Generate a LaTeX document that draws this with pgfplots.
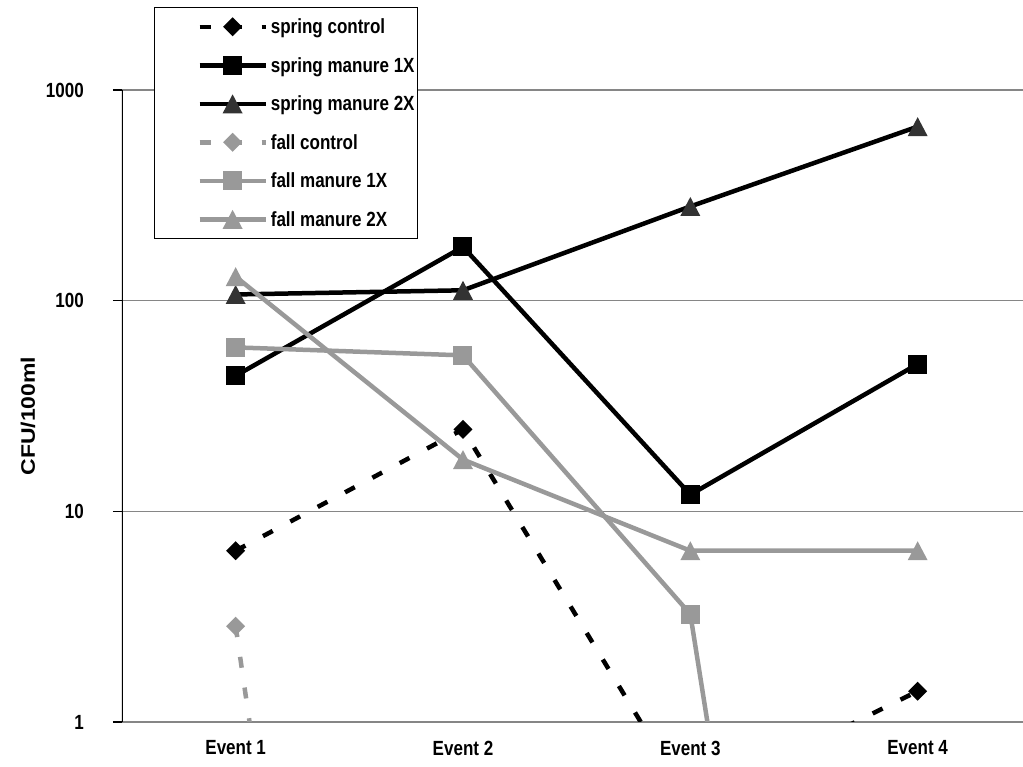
\documentclass[border=0pt]{standalone}
\usepackage{graphicx}
\usepackage{fontspec}
\setmainfont{Liberation Sans}[FakeStretch=0.83]
\newfontfamily\labelfamily{Liberation Sans}
\usepackage{pgfplots}
\pgfplotsset{compat=1.18}

\definecolor{gridgray}{HTML}{868686}
\definecolor{fallgray}{HTML}{999999}
\definecolor{darktri}{HTML}{333333}

\newcommand{\chartfont}{\fontsize{20.5}{24}\selectfont\bfseries}
\newcommand{\titlefont}{\labelfamily\fontsize{23}{27}\selectfont\bfseries}

% filled marks without outline
\pgfdeclareplotmark{xdiamond}{%
  \pgfpathmoveto{\pgfqpoint{0pt}{\pgfplotmarksize}}%
  \pgfpathlineto{\pgfqpoint{\pgfplotmarksize}{0pt}}%
  \pgfpathlineto{\pgfqpoint{0pt}{-\pgfplotmarksize}}%
  \pgfpathlineto{\pgfqpoint{-\pgfplotmarksize}{0pt}}%
  \pgfpathclose\pgfusepathqfill}
\pgfdeclareplotmark{xsquare}{%
  \pgfpathrectangle{\pgfqpoint{-\pgfplotmarksize}{-\pgfplotmarksize}}{\pgfqpoint{2\pgfplotmarksize}{2\pgfplotmarksize}}%
  \pgfusepathqfill}
\pgfdeclareplotmark{xtriangle}{%
  \pgfpathmoveto{\pgfqpoint{0pt}{\pgfplotmarksize}}%
  \pgfpathlineto{\pgfqpoint{1.05\pgfplotmarksize}{-\pgfplotmarksize}}%
  \pgfpathlineto{\pgfqpoint{-1.05\pgfplotmarksize}{-\pgfplotmarksize}}%
  \pgfpathclose\pgfusepathqfill}

\begin{document}
\begin{tikzpicture}
\begin{axis}[
  scale only axis, width=901pt, height=632pt,
  at={(0pt,0pt)}, anchor=south west,
  xmin=0.5, xmax=4.4634,
  ymode=log, ymin=1, ymax=1000,
  xtick={1,2,3,4}, xticklabels={Event 1,Event 2,Event 3,Event 4},
  ytick={1,10,100,1000}, yticklabels={1,10,100,1000},
  yminorticks=false,
  ymajorgrids, major grid style={gridgray, line width=1.5pt},
  axis line style={draw=none},
  tick align=outside, ytick pos=left, major tick length=9pt,
  ytick style={black, line width=1.3pt},
  xtick style={draw=none},
  ticklabel style={font=\chartfont},
  yticklabel style={anchor=east, inner sep=0pt, xshift=-29pt},
  xticklabel style={anchor=center, inner sep=0pt, yshift=-17pt},
  ylabel={\scalebox{1}[0.85]{CFU/100ml}},
  every axis y label/.style={at={(axis description cs:-0.1043,0.484)}, rotate=90, anchor=center, font=\titlefont},
  clip marker paths=true,
  legend style={at={(axis description cs:0.03552,1.13133)}, anchor=north west,
    draw=black, line width=1.2pt, fill=white, inner xsep=3pt, inner ysep=0pt,
    font=\chartfont, cells={anchor=west},
    nodes={inner sep=0pt, minimum height=38.5pt},
    /tikz/every odd column/.append style={column sep=3pt}},
  legend image code/.code={%
    \path[draw=none, fill=none] (-42pt,0pt) -- (-41pt,0pt);
    \draw[#1,mark repeat=2,mark phase=2] plot coordinates {(0pt,0pt) (33pt,0pt) (66pt,0pt)};},
  every axis plot/.append style={line width=4.5pt, mark size=9.5pt, mark options={solid}},
]
% spring series
\addplot[black, dash pattern=on 11pt off 20pt, mark=xdiamond]
  coordinates {(1,6.5) (2,24.5) (3,0.41) (4,1.4)};
\addlegendentry{spring control}
\addplot[black, mark=xsquare]
  coordinates {(1,44) (2,180) (3,12) (4,50)};
\addlegendentry{spring manure 1X}
\addplot[black, mark=xtriangle, mark options={solid, fill=darktri}]
  coordinates {(1,107) (2,112) (3,280) (4,670)};
\addlegendentry{spring manure 2X}
% fall series
\addplot[fallgray, dash pattern=on 11pt off 20pt, mark=xdiamond]
  coordinates {(1,2.85) (2,1e-7) (3,1e-7) (4,1e-7)};
\addlegendentry{fall control}
\addplot[fallgray, mark=xsquare]
  coordinates {(1,60) (2,55) (3,3.25) (4,5e-7)};
\addlegendentry{fall manure 1X}
\addplot[fallgray, mark=xtriangle]
  coordinates {(1,130) (2,17.6) (3,6.5) (4,6.5)};
\addlegendentry{fall manure 2X}
% vertical value axis
\draw[black, line width=1.3pt] (rel axis cs:0,0) -- (rel axis cs:0,1);
\end{axis}
\pgfresetboundingbox
\path[use as bounding box] (-122pt,-45pt) rectangle (901pt,722pt);
\end{tikzpicture}
\end{document}
